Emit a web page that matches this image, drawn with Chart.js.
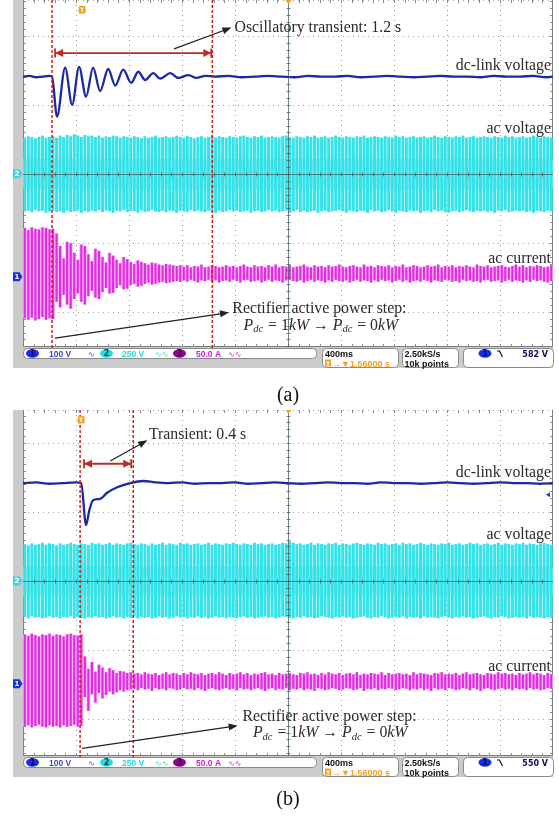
<!DOCTYPE html>
<html>
<head>
<meta charset="utf-8">
<script src="https://cdn.jsdelivr.net/npm/chart.js@4.4.1/dist/chart.umd.min.js"></script>
<style>
  body { margin: 0; background: #fff; width: 559px; height: 820px; position: relative; overflow: hidden; }
  canvas { position: absolute; left: 0; }
  #scopeA { top: 0; }
  #scopeB { top: 405px; }
</style>
</head>
<body>
<canvas id="scopeA" width="559" height="405"></canvas>
<canvas id="scopeB" width="559" height="415"></canvas>
<script>
// x: time in s (400 ms/div, 10 div). y: screen divisions, 0 = centre line.

// ---------- (a) ----------
var dcTimeA = [0, 0.05, 0.1, 0.15, 0.2, 0.219, 0.257, 0.318, 0.371, 0.423, 0.476, 0.529, 0.582, 0.643, 0.696,
  0.756, 0.817, 0.870, 0.922, 0.983, 1.036, 1.112, 1.172, 1.248, 1.308, 1.376,
  1.45, 1.55, 1.65, 1.75, 1.85, 1.95, 2.05, 2.15, 2.25, 2.35, 2.45, 2.55, 2.65, 2.75, 2.85, 2.95,
  3.05, 3.15, 3.25, 3.35, 3.45, 3.55, 3.65, 3.75, 3.85, 3.95, 4.0];
var dcLevelA = [1.41, 1.42, 1.40, 1.41, 1.42, 1.41, 0.83, 1.54, 1.00, 1.55, 1.12, 1.54, 1.20, 1.52, 1.28,
  1.51, 1.32, 1.48, 1.36, 1.46, 1.38, 1.46, 1.39, 1.43, 1.39, 1.42,
  1.41, 1.42, 1.40, 1.41, 1.42, 1.41, 1.40, 1.42, 1.41, 1.41, 1.42, 1.40, 1.41, 1.42, 1.41, 1.40,
  1.41, 1.42, 1.41, 1.41, 1.40, 1.42, 1.41, 1.41, 1.42, 1.40, 1.41];

var acvUpA = [0.52,0.54,0.53,0.51,0.53,0.55,0.52,0.53,0.54,0.52, 0.55,0.53,0.56,0.54,0.57,0.55,0.53,0.56,0.54,0.55,
  0.53,0.55,0.52,0.54,0.53,0.55,0.54,0.52,0.54,0.53, 0.52,0.54,0.53,0.51,0.54,0.52,0.53,0.55,0.52,0.53,
  0.54,0.52,0.53,0.55,0.53,0.52,0.54,0.53,0.51,0.53, 0.54,0.52,0.53,0.55,0.52,0.54,0.53,0.52,0.54,0.53,
  0.52,0.54,0.55,0.53,0.52,0.54,0.53,0.55,0.52,0.53, 0.54,0.53,0.52,0.54,0.55,0.53,0.52,0.54,0.53,0.52,
  0.54,0.53,0.55,0.52,0.53,0.54,0.52,0.53,0.55,0.53, 0.52,0.54,0.53,0.52,0.54,0.53,0.55,0.52,0.53,0.54,
  0.53,0.52,0.54,0.53,0.52,0.55,0.53,0.54,0.52,0.53, 0.54,0.52,0.53,0.54,0.52,0.53,0.55,0.53,0.52,0.54,
  0.53,0.52,0.54,0.53,0.55,0.52,0.53,0.54,0.52,0.53, 0.54,0.53,0.52,0.54,0.53,0.52,0.55,0.53,0.54,0.52,
  0.53,0.54,0.52,0.53,0.55,0.53,0.52,0.54,0.53,0.52];
var acvLowA = [-0.54,-0.53,-0.55,-0.52,-0.54,-0.53,-0.56,-0.54,-0.53,-0.55, -0.54,-0.56,-0.53,-0.55,-0.54,-0.53,-0.56,-0.54,-0.55,-0.53,
  -0.54,-0.52,-0.55,-0.53,-0.54,-0.56,-0.53,-0.54,-0.52,-0.55, -0.53,-0.54,-0.56,-0.53,-0.55,-0.54,-0.52,-0.54,-0.55,-0.53,
  -0.55,-0.53,-0.54,-0.56,-0.53,-0.54,-0.55,-0.52,-0.54,-0.53, -0.54,-0.55,-0.53,-0.54,-0.56,-0.53,-0.55,-0.54,-0.52,-0.54,
  -0.53,-0.55,-0.54,-0.53,-0.56,-0.54,-0.53,-0.55,-0.54,-0.52, -0.54,-0.53,-0.55,-0.54,-0.53,-0.56,-0.54,-0.52,-0.55,-0.53,
  -0.55,-0.54,-0.53,-0.56,-0.54,-0.53,-0.55,-0.54,-0.53,-0.52, -0.54,-0.56,-0.53,-0.54,-0.55,-0.53,-0.54,-0.56,-0.52,-0.54,
  -0.53,-0.55,-0.54,-0.52,-0.54,-0.56,-0.53,-0.54,-0.55,-0.53, -0.54,-0.53,-0.56,-0.54,-0.53,-0.55,-0.52,-0.54,-0.53,-0.55,
  -0.56,-0.54,-0.53,-0.55,-0.54,-0.52,-0.54,-0.55,-0.53,-0.54, -0.53,-0.55,-0.54,-0.56,-0.53,-0.54,-0.52,-0.55,-0.54,-0.53,
  -0.54,-0.53,-0.55,-0.54,-0.56,-0.53,-0.54,-0.55,-0.53,-0.54];
var acvCoreA = [-0.22, 0.22];

var curUpA = [0.66,0.63,0.67,0.65,0.64,0.67,0.66,0.64,0.65,
  0.58,0.40,0.22,0.46,0.44,0.30,0.20,0.42,0.40,0.28,0.18,0.36,0.33,0.24,0.16,0.30,0.26,0.20,
  0.15,0.24,0.21,0.17,0.14,0.19,0.17,0.15,0.13,0.16,0.15,0.13,0.12,0.14,0.13,0.12,0.11,0.12,
  0.10,0.12,0.09,0.11,0.10,0.13,0.09,0.10,0.12,0.11,0.09,0.10,0.12,0.10,0.11,
  0.09,0.11,0.13,0.10,0.09,0.12,0.10,0.11,0.09,0.12,0.10,0.13,0.09,0.11,0.10,
  0.12,0.09,0.10,0.11,0.13,0.10,0.09,0.12,0.10,0.11,0.09,0.12,0.10,0.11,0.13,
  0.10,0.09,0.11,0.12,0.10,0.09,0.13,0.10,0.11,0.09,0.12,0.11,0.10,0.12,0.09,
  0.11,0.10,0.13,0.09,0.10,0.12,0.11,0.09,0.10,0.12,0.10,0.11,0.13,0.09,0.11,
  0.10,0.12,0.09,0.11,0.10,0.12,0.10,0.09,0.13,0.11,0.10,0.12,0.09,0.10,0.11,
  0.12,0.10,0.09,0.11,0.13,0.10,0.12,0.09,0.11,0.10,0.12,0.11,0.09,0.10,0.12];
var curLowA = [-0.64,-0.66,-0.63,-0.67,-0.65,-0.62,-0.66,-0.64,-0.65,
  -0.40,-0.48,-0.30,-0.44,-0.50,-0.36,-0.28,-0.40,-0.44,-0.32,-0.24,-0.34,-0.36,-0.26,-0.20,-0.28,-0.27,-0.20,
  -0.16,-0.22,-0.21,-0.16,-0.14,-0.18,-0.17,-0.14,-0.12,-0.15,-0.14,-0.12,-0.11,-0.13,-0.12,-0.11,-0.10,-0.11,
  -0.09,-0.11,-0.08,-0.10,-0.12,-0.09,-0.10,-0.08,-0.11,-0.09,-0.12,-0.10,-0.09,-0.11,-0.08,
  -0.10,-0.12,-0.09,-0.08,-0.11,-0.10,-0.09,-0.12,-0.10,-0.08,-0.11,-0.09,-0.10,-0.12,-0.09,
  -0.08,-0.10,-0.11,-0.09,-0.12,-0.10,-0.08,-0.11,-0.09,-0.10,-0.12,-0.09,-0.11,-0.08,-0.10,
  -0.11,-0.09,-0.12,-0.10,-0.08,-0.11,-0.09,-0.10,-0.12,-0.09,-0.11,-0.08,-0.10,-0.09,-0.12,
  -0.10,-0.08,-0.11,-0.09,-0.12,-0.10,-0.09,-0.11,-0.08,-0.10,-0.12,-0.09,-0.10,-0.11,-0.08,
  -0.09,-0.11,-0.10,-0.12,-0.08,-0.10,-0.09,-0.11,-0.10,-0.12,-0.09,-0.08,-0.11,-0.10,-0.09,
  -0.12,-0.10,-0.08,-0.11,-0.09,-0.10,-0.12,-0.09,-0.11,-0.08,-0.10,-0.09,-0.11,-0.12,-0.10];
var stepTimesA = [0.219, 1.429];

// ---------- (b) ----------
var dcTimeB = [0, 0.1, 0.2, 0.3, 0.4, 0.439, 0.476, 0.50, 0.529, 0.582, 0.635, 0.711, 0.809, 0.907, 1.0,
  1.1, 1.2, 1.3, 1.4, 1.5, 1.6, 1.7, 1.8, 1.9, 2.0, 2.1, 2.2, 2.3, 2.4, 2.5, 2.6, 2.7, 2.8, 2.9,
  3.0, 3.1, 3.2, 3.3, 3.4, 3.5, 3.6, 3.7, 3.8, 3.9, 4.0];
var dcLevelB = [1.42, 1.43, 1.41, 1.42, 1.43, 1.42, 0.81, 1.02, 1.17, 1.19, 1.28, 1.36, 1.42, 1.45, 1.43,
  1.42, 1.43, 1.41, 1.42, 1.42, 1.43, 1.41, 1.42, 1.43, 1.42, 1.41, 1.42, 1.43, 1.42, 1.42,
  1.41, 1.43, 1.42, 1.42, 1.41, 1.42, 1.43, 1.42, 1.41, 1.42, 1.43, 1.42, 1.42, 1.41, 1.42];

var acvUpB = [0.53,0.51,0.54,0.52,0.53,0.55,0.52,0.54,0.53,0.51, 0.54,0.52,0.53,0.55,0.53,0.52,0.54,0.53,0.52,0.55,
  0.53,0.54,0.52,0.53,0.55,0.52,0.54,0.53,0.52,0.54, 0.55,0.53,0.52,0.54,0.53,0.51,0.54,0.52,0.53,0.55,
  0.52,0.54,0.53,0.52,0.55,0.53,0.54,0.52,0.53,0.54, 0.52,0.53,0.55,0.52,0.54,0.53,0.52,0.54,0.53,0.55,
  0.53,0.52,0.54,0.53,0.52,0.55,0.53,0.54,0.52,0.53, 0.54,0.52,0.53,0.55,0.54,0.57,0.55,0.53,0.54,0.52,
  0.53,0.55,0.52,0.54,0.53,0.52,0.54,0.53,0.55,0.52, 0.54,0.53,0.52,0.54,0.55,0.53,0.52,0.54,0.53,0.52,
  0.55,0.53,0.54,0.52,0.53,0.54,0.52,0.55,0.53,0.54, 0.52,0.53,0.55,0.53,0.52,0.54,0.53,0.52,0.54,0.53,
  0.55,0.52,0.53,0.54,0.52,0.53,0.55,0.53,0.54,0.52, 0.53,0.54,0.52,0.53,0.55,0.52,0.54,0.53,0.52,0.54,
  0.53,0.55,0.52,0.54,0.53,0.52,0.54,0.55,0.53,0.52];
var acvLowB = [-0.52,-0.54,-0.51,-0.53,-0.52,-0.54,-0.53,-0.51,-0.53,-0.52, -0.54,-0.52,-0.53,-0.51,-0.54,-0.52,-0.53,-0.54,-0.52,-0.53,
  -0.51,-0.53,-0.52,-0.54,-0.53,-0.51,-0.53,-0.52,-0.54,-0.52, -0.53,-0.51,-0.54,-0.52,-0.53,-0.52,-0.54,-0.53,-0.51,-0.53,
  -0.52,-0.54,-0.53,-0.51,-0.53,-0.52,-0.54,-0.52,-0.53,-0.51, -0.53,-0.52,-0.54,-0.53,-0.51,-0.53,-0.52,-0.54,-0.52,-0.53,
  -0.54,-0.52,-0.51,-0.53,-0.52,-0.54,-0.53,-0.52,-0.51,-0.53, -0.52,-0.54,-0.53,-0.51,-0.52,-0.53,-0.54,-0.52,-0.53,-0.51,
  -0.53,-0.52,-0.54,-0.53,-0.51,-0.52,-0.53,-0.54,-0.52,-0.53, -0.51,-0.53,-0.52,-0.54,-0.53,-0.52,-0.51,-0.53,-0.54,-0.52,
  -0.53,-0.51,-0.52,-0.54,-0.53,-0.52,-0.53,-0.51,-0.54,-0.52, -0.53,-0.52,-0.54,-0.51,-0.53,-0.52,-0.53,-0.54,-0.52,-0.51,
  -0.53,-0.54,-0.52,-0.53,-0.51,-0.53,-0.52,-0.54,-0.53,-0.52, -0.51,-0.53,-0.54,-0.52,-0.53,-0.51,-0.52,-0.54,-0.53,-0.52,
  -0.53,-0.52,-0.54,-0.51,-0.53,-0.52,-0.53,-0.54,-0.52,-0.53];
var acvCoreB = [-0.21, 0.21];

var curUpB = [0.68,0.66,0.69,0.67,0.65,0.68,0.67,0.69,0.66,0.68,0.67,0.65,0.68,0.69,0.67,0.66,0.68,
  0.36,0.18,0.28,0.14,0.24,0.20,0.13,0.19,0.16,0.12,0.15,0.14,0.12,0.13,
  0.11,0.12,0.10,0.13,0.11,0.10,0.12,0.09,0.11,0.13,0.10,0.12,0.11,0.09,0.12,
  0.10,0.13,0.11,0.10,0.12,0.09,0.11,0.12,0.10,0.13,0.11,0.09,0.12,0.10,0.11,
  0.13,0.10,0.12,0.09,0.11,0.10,0.12,0.13,0.10,0.11,0.09,0.12,0.10,0.11,0.12,
  0.10,0.09,0.12,0.11,0.13,0.10,0.11,0.09,0.12,0.10,0.13,0.11,0.10,0.12,0.09,
  0.11,0.12,0.10,0.13,0.09,0.11,0.10,0.12,0.11,0.10,0.13,0.09,0.12,0.10,0.11,
  0.12,0.10,0.11,0.09,0.13,0.10,0.12,0.11,0.10,0.09,0.12,0.11,0.13,0.10,0.11,
  0.10,0.12,0.09,0.11,0.13,0.10,0.11,0.12,0.10,0.09,0.12,0.11,0.10,0.13,0.11,
  0.12,0.10,0.11,0.09,0.12,0.10,0.11,0.13,0.10,0.12,0.11,0.09,0.12,0.10];
var curLowB = [-0.65,-0.63,-0.66,-0.64,-0.62,-0.65,-0.66,-0.63,-0.65,-0.64,-0.66,-0.63,-0.65,-0.64,-0.62,-0.65,-0.64,
  -0.22,-0.42,-0.18,-0.30,-0.16,-0.24,-0.19,-0.14,-0.18,-0.15,-0.12,-0.14,-0.12,-0.11,
  -0.10,-0.12,-0.09,-0.11,-0.10,-0.13,-0.09,-0.11,-0.10,-0.12,-0.09,-0.10,-0.12,-0.11,-0.09,
  -0.11,-0.10,-0.12,-0.09,-0.11,-0.13,-0.10,-0.09,-0.11,-0.12,-0.10,-0.09,-0.11,-0.10,-0.12,
  -0.09,-0.11,-0.10,-0.12,-0.10,-0.09,-0.11,-0.13,-0.10,-0.09,-0.12,-0.10,-0.11,-0.09,-0.12,
  -0.10,-0.11,-0.09,-0.12,-0.10,-0.11,-0.13,-0.09,-0.10,-0.12,-0.11,-0.09,-0.10,-0.12,-0.11,
  -0.09,-0.10,-0.12,-0.11,-0.09,-0.13,-0.10,-0.11,-0.09,-0.12,-0.10,-0.11,-0.09,-0.10,-0.12,
  -0.11,-0.09,-0.10,-0.12,-0.10,-0.11,-0.09,-0.12,-0.10,-0.13,-0.09,-0.11,-0.10,-0.12,-0.09,
  -0.10,-0.12,-0.11,-0.09,-0.10,-0.12,-0.09,-0.11,-0.13,-0.10,-0.09,-0.11,-0.12,-0.10,-0.09,
  -0.11,-0.10,-0.12,-0.09,-0.11,-0.10,-0.12,-0.09,-0.11,-0.10,-0.12,-0.11,-0.09,-0.10];
var stepTimesB = [0.431, 0.832];

var TIME_SPAN = 4;
var SERIF = '"Liberation Serif"';

function columns(up, low, centre) {
  var dt = TIME_SPAN / up.length;
  return up.map(function (u, i) {
    return { x: (i + 0.5) * dt, y: [centre + low[i], centre + u] };
  });
}

function points(ts, vs) {
  return ts.map(function (t, i) { return { x: t, y: vs[i] }; });
}

function seg(ctx, x1, y1, x2, y2) {
  ctx.beginPath();
  ctx.moveTo(x1, y1);
  ctx.lineTo(x2, y2);
  ctx.stroke();
}

function head(ctx, x1, y1, x2, y2, len, half) {
  var a = Math.atan2(y2 - y1, x2 - x1), c = Math.cos(a), s = Math.sin(a);
  ctx.beginPath();
  ctx.moveTo(x2, y2);
  ctx.lineTo(x2 - len * c + half * s, y2 - len * s - half * c);
  ctx.lineTo(x2 - len * c - half * s, y2 - len * s + half * c);
  ctx.closePath();
  ctx.fill();
}

function pill(ctx, x, y, w, h, r) {
  ctx.beginPath();
  ctx.moveTo(x + r, y);
  ctx.lineTo(x + w - r, y);
  ctx.arcTo(x + w, y, x + w, y + r, r);
  ctx.lineTo(x + w, y + h - r);
  ctx.arcTo(x + w, y + h, x + w - r, y + h, r);
  ctx.lineTo(x + r, y + h);
  ctx.arcTo(x, y + h, x, y + h - r, r);
  ctx.lineTo(x, y + r);
  ctx.arcTo(x, y, x + r, y, r);
  ctx.closePath();
}

function chip(ctx, cx, cy, fill, ink, txt) {
  ctx.fillStyle = fill;
  ctx.beginPath();
  ctx.ellipse(cx, cy, 6.5, 4.2, 0, 0, Math.PI * 2);
  ctx.fill();
  ctx.fillStyle = ink;
  ctx.font = 'bold 8px "DejaVu Sans"';
  ctx.textAlign = 'center';
  ctx.textBaseline = 'middle';
  ctx.fillText(txt, cx, cy + 0.5);
  ctx.textAlign = 'left';
  ctx.textBaseline = 'alphabetic';
}

function statusBar(ctx, L, B, level) {
  ctx.save();
  ctx.setLineDash([]);
  ctx.lineWidth = 1;
  ctx.strokeStyle = '#8a8a8a';
  ctx.fillStyle = '#ffffff';
  [[0, 293, 10], [299, 76, 19], [379, 56, 19], [440, 90, 19]].forEach(function (b) {
    pill(ctx, L + b[0] + 0.5, B + 1.5, b[1], b[2], 4);
    ctx.fill();
    ctx.stroke();
  });
  var f = 'bold 8.5px "Liberation Sans"';
  chip(ctx, L + 9.5, B + 6.5, 'rgb(25,45,230)', 'rgb(10,15,90)', '1');
  ctx.font = f; ctx.fillStyle = 'rgb(55,75,215)';
  ctx.fillText('100 V', L + 26, B + 10);
  ctx.font = '8px "DejaVu Sans"';
  ctx.fillText('\u223F', L + 65, B + 10);
  chip(ctx, L + 83.5, B + 6.5, 'rgb(35,222,225)', 'rgb(10,70,80)', '2');
  ctx.font = f; ctx.fillStyle = 'rgb(40,215,220)';
  ctx.fillText('250 V', L + 99, B + 10);
  ctx.font = '8px "DejaVu Sans"';
  ctx.fillText('\u223F\u223F', L + 132, B + 10);
  chip(ctx, L + 156.5, B + 6.5, 'rgb(150,0,150)', 'rgb(60,0,60)', '3');
  ctx.font = f; ctx.fillStyle = 'rgb(205,35,205)';
  ctx.fillText('50.0 A', L + 173, B + 10);
  ctx.font = '8px "DejaVu Sans"';
  ctx.fillText('\u223F\u223F', L + 205, B + 10);

  ctx.font = 'bold 9px "Liberation Sans"';
  ctx.fillStyle = '#111';
  ctx.fillText('400ms', L + 302, B + 10);
  ctx.fillStyle = 'rgb(245,160,30)';
  ctx.fillRect(L + 302, B + 12.5, 6, 7);
  ctx.fillText('\u2192\u25BC1.56000 s', L + 309, B + 19.5);
  ctx.fillStyle = '#fff';
  ctx.font = 'bold 6px "DejaVu Sans"';
  ctx.fillText('T', L + 303, B + 18.5);
  ctx.font = 'bold 9px "Liberation Sans"';
  ctx.fillStyle = '#111';
  ctx.fillText('2.50kS/s', L + 381.5, B + 10);
  ctx.fillText('10k points', L + 381.5, B + 19.5);
  chip(ctx, L + 462, B + 6.5, 'rgb(25,45,230)', 'rgb(10,15,90)', '1');
  ctx.strokeStyle = '#111';
  ctx.lineWidth = 1.2;
  ctx.beginPath();
  ctx.moveTo(L + 474, B + 4);
  ctx.lineTo(L + 476.5, B + 4);
  ctx.lineTo(L + 479.5, B + 10);
  ctx.stroke();
  ctx.textAlign = 'right';
  ctx.fillText(level, L + 525, B + 10);
  ctx.restore();
}

function mathLine(ctx, x, y, parts) {
  parts.forEach(function (p) {
    ctx.font = (p.it ? 'italic ' : '') + (p.sub ? '10.5px ' : '15.8px ') + SERIF;
    ctx.fillText(p.t, x, p.sub ? y + 3.5 : y);
    x += ctx.measureText(p.t).width + (p.sub ? 1 : 0);
  });
}

var powerStep = [
  { t: 'P', it: true }, { t: 'dc', it: true, sub: true }, { t: ' = 1' }, { t: 'kW', it: true },
  { t: ' \u2192 ' }, { t: 'P', it: true }, { t: 'dc', it: true, sub: true }, { t: ' = 0' }, { t: 'kW', it: true }
];

function scopeLook(p) {
  return {
    id: 'scopeLook',
    beforeDatasetsDraw: function (chart) {
      var ctx = chart.ctx, a = chart.chartArea, xs = chart.scales.x, ys = chart.scales.y;
      var i, x, y, v;
      ctx.save();
      ctx.fillStyle = '#cbcbcb';
      ctx.fillRect(a.left - 10, a.top, a.right - a.left + 10, a.bottom - a.top + 21);
      ctx.fillStyle = '#ffffff';
      ctx.fillRect(a.left, a.top, a.right - a.left, a.bottom - a.top);
      ctx.strokeStyle = '#9c9c9c';
      ctx.lineWidth = 1;
      ctx.setLineDash([1, 4]);
      for (i = 1; i < 10; i++) {
        if (i === 5) continue;
        x = Math.round(xs.getPixelForValue(i * 0.4)) + 0.5;
        seg(ctx, x, a.top, x, a.bottom);
      }
      for (i = -2; i <= 2; i++) {
        if (i === 0) continue;
        y = Math.round(ys.getPixelForValue(i)) + 0.5;
        seg(ctx, a.left, y, a.right, y);
      }
      seg(ctx, a.left, a.top + 0.5, a.right, a.top + 0.5);
      ctx.setLineDash([]);
      ctx.strokeStyle = '#7c7c7c';
      seg(ctx, a.left + 0.5, a.top, a.left + 0.5, a.bottom);
      seg(ctx, a.right - 0.5, a.top, a.right - 0.5, a.bottom);
      seg(ctx, a.left, a.bottom - 0.5, a.right, a.bottom - 0.5);
      ctx.strokeStyle = '#8c8c8c';
      for (v = Math.ceil(p.yMin * 10); v <= p.yMax * 10; v++) {
        y = Math.round(ys.getPixelForValue(v / 10)) + 0.5;
        seg(ctx, a.left, y, a.left + 3, y);
        seg(ctx, a.right - 3, y, a.right, y);
      }
      for (v = 1; v < 50; v++) {
        x = Math.round(xs.getPixelForValue(v * 0.08)) + 0.5;
        seg(ctx, x, a.bottom - 3, x, a.bottom);
        seg(ctx, x, a.top, x, a.top + 3);
      }
      ctx.restore();
    },
    afterDatasetsDraw: function (chart) {
      var ctx = chart.ctx, a = chart.chartArea, xs = chart.scales.x, ys = chart.scales.y;
      var X = function (t) { return xs.getPixelForValue(t); };
      var Y = function (v) { return ys.getPixelForValue(v); };
      var v, x, y, cx = Math.round(X(2)) + 0.5, cy = Math.round(Y(0)) + 0.5;
      ctx.save();

      // centre cross with ticks
      ctx.strokeStyle = 'rgba(70,90,95,0.75)';
      ctx.lineWidth = 1;
      seg(ctx, a.left, cy, a.right, cy);
      seg(ctx, cx, a.top, cx, a.bottom);
      for (v = 1; v < 50; v++) {
        x = Math.round(X(v * 0.08)) + 0.5;
        seg(ctx, x, cy - 2, x, cy + 2);
      }
      for (v = Math.ceil(p.yMin * 10); v <= p.yMax * 10; v++) {
        y = Math.round(Y(v / 10)) + 0.5;
        seg(ctx, cx - 2, y, cx + 2, y);
      }

      // step markers
      ctx.strokeStyle = 'rgb(208,30,30)';
      ctx.lineWidth = 1.5;
      ctx.setLineDash([3, 2]);
      p.steps.forEach(function (t) { seg(ctx, X(t), a.top, X(t), a.bottom + 11); });
      ctx.setLineDash([]);

      // transient span arrow
      var sy = Y(p.span.y), s0 = X(p.span.t0), s1 = X(p.span.t1);
      ctx.strokeStyle = 'rgb(185,45,40)';
      ctx.fillStyle = 'rgb(185,45,40)';
      ctx.lineWidth = 1.8;
      seg(ctx, s0, sy, s1, sy);
      seg(ctx, s0, sy - 4.5, s0, sy + 4.5);
      seg(ctx, s1, sy - 4.5, s1, sy + 4.5);
      head(ctx, s1, sy, s0, sy, 8, 4);
      head(ctx, s0, sy, s1, sy, 8, 4);

      // black callout arrows
      ctx.strokeStyle = '#222';
      ctx.fillStyle = '#222';
      ctx.lineWidth = 1.3;
      [p.note, p.power].forEach(function (n) {
        var x0 = X(n.t0), y0 = Y(n.v0), x1 = X(n.t1), y1 = Y(n.v1);
        seg(ctx, x0, y0, x1 - (x1 - x0) * 0.03, y1 - (y1 - y0) * 0.03);
        head(ctx, x0, y0, x1, y1, 9, 3.5);
      });

      ctx.fillStyle = '#2a2a2a';
      ctx.textBaseline = 'middle';
      ctx.font = '15.8px ' + SERIF;
      ctx.textAlign = 'left';
      ctx.fillText(p.note.text, X(p.note.tx), Y(p.note.vy));
      ctx.fillText('Rectifier active power step:', X(p.power.tx1), Y(p.power.vy1));
      mathLine(ctx, X(p.power.tx2), Y(p.power.vy2), powerStep);
      ctx.font = '15.8px ' + SERIF;
      ctx.textAlign = 'right';
      p.names.forEach(function (n) { ctx.fillText(n[0], X(3.985), Y(n[1])); });

      // channel markers on the left edge
      [[0, 'rgb(60,215,225)', '2'], [p.ch1Mark, 'rgb(25,50,225)', '1']].forEach(function (m) {
        var yy = Y(m[0]), xx = a.left - 10;
        ctx.fillStyle = m[1];
        ctx.beginPath();
        ctx.moveTo(xx, yy - 4.5);
        ctx.lineTo(xx + 6.5, yy - 4.5);
        ctx.lineTo(xx + 9.5, yy);
        ctx.lineTo(xx + 6.5, yy + 4.5);
        ctx.lineTo(xx, yy + 4.5);
        ctx.closePath();
        ctx.fill();
        ctx.fillStyle = '#fff';
        ctx.font = 'bold 7px "DejaVu Sans"';
        ctx.textAlign = 'center';
        ctx.fillText(m[2], xx + 4, yy + 0.5);
      });

      // trigger point and position markers
      ctx.fillStyle = 'rgb(245,160,30)';
      x = X(p.trigTime);
      pill(ctx, x - 3.5, a.top + 6, 7, 7.5, 1.5);
      ctx.fill();
      ctx.fillStyle = '#fff';
      ctx.font = 'bold 6px "DejaVu Sans"';
      ctx.fillText('T', x, a.top + 10);
      ctx.fillStyle = 'rgb(245,160,30)';
      ctx.beginPath();
      ctx.moveTo(cx - 3, a.top);
      ctx.lineTo(cx + 3, a.top);
      ctx.lineTo(cx, a.top + 4);
      ctx.closePath();
      ctx.fill();
      if (p.levelMark !== null) {
        y = Y(p.levelMark);
        ctx.fillStyle = 'rgb(30,60,230)';
        ctx.beginPath();
        ctx.moveTo(a.right - 7, y);
        ctx.lineTo(a.right - 3, y - 2.5);
        ctx.lineTo(a.right - 3, y + 2.5);
        ctx.closePath();
        ctx.fill();
      }

      statusBar(ctx, a.left, a.bottom, p.level);

      ctx.fillStyle = '#111';
      ctx.font = '20px ' + SERIF;
      ctx.textAlign = 'center';
      ctx.textBaseline = 'middle';
      ctx.fillText(p.caption, (a.left + a.right) / 2, p.captionY);
      ctx.restore();
    }
  };
}

function scope(id, p) {
  var acv = columns(p.acvUp, p.acvLow, 0);
  var cur = columns(p.curUp, p.curLow, p.curCentre);
  return new Chart(document.getElementById(id), {
    type: 'bar',
    data: {
      datasets: [
        { type: 'line', data: [{ x: 0, y: p.acvCore[1] }, { x: TIME_SPAN, y: p.acvCore[1] }], fill: '+1',
          backgroundColor: 'rgb(165,241,243)', borderColor: 'rgba(0,0,0,0)', borderWidth: 0, pointRadius: 0, order: 8 },
        { type: 'line', data: [{ x: 0, y: p.acvCore[0] }, { x: TIME_SPAN, y: p.acvCore[0] }], fill: false,
          borderColor: 'rgba(0,0,0,0)', borderWidth: 0, pointRadius: 0, order: 8 },
        { data: acv, backgroundColor: 'rgb(52,226,232)', barThickness: 2.3, grouped: false, order: 6 },
        { data: cur, backgroundColor: 'rgb(245,178,245)', barThickness: 3.2, grouped: false, order: 5 },
        { data: cur, backgroundColor: 'rgb(224,45,224)', barThickness: 1.5, grouped: false, order: 4 },
        { type: 'line', data: points(p.dcTime, p.dcLevel), borderColor: 'rgb(28,42,160)', borderWidth: 2.3,
          pointRadius: 0, cubicInterpolationMode: 'monotone', order: 1 }
      ]
    },
    options: {
      responsive: false,
      animation: false,
      devicePixelRatio: 1,
      layout: { padding: p.pad },
      plugins: { legend: { display: false }, tooltip: { enabled: false } },
      scales: {
        x: { type: 'linear', min: 0, max: TIME_SPAN, offset: false, display: false },
        y: { type: 'linear', min: p.yMin, max: p.yMax, display: false }
      }
    },
    plugins: [scopeLook(p)]
  });
}

scope('scopeA', {
  yMin: -2.51, yMax: 2.52, pad: { left: 23, right: 6, top: 0, bottom: 58 },
  dcTime: dcTimeA, dcLevel: dcLevelA, acvUp: acvUpA, acvLow: acvLowA, acvCore: acvCoreA,
  curUp: curUpA, curLow: curLowA, curCentre: -1.45,
  steps: stepTimesA, trigTime: 0.446, ch1Mark: -1.49, levelMark: null,
  level: '582 V', caption: '(a)', captionY: 396,
  span: { y: 1.75, t0: 0.242, t1: 1.421 },
  note: { t0: 1.14, v0: 1.81, t1: 1.573, v1: 2.12, tx: 1.596, vy: 2.12, text: 'Oscillatory transient: 1.2 s' },
  power: { t0: 0.242, v0: -2.38, t1: 1.555, v1: -2.01, tx1: 1.58, vy1: -1.96, tx2: 1.665, vy2: -2.2 },
  names: [['dc-link voltage', 1.57], ['ac voltage', 0.65], ['ac current', -1.23]]
});

scope('scopeB', {
  yMin: -2.54, yMax: 2.48, pad: { left: 23, right: 6, top: 5, bottom: 64 },
  dcTime: dcTimeB, dcLevel: dcLevelB, acvUp: acvUpB, acvLow: acvLowB, acvCore: acvCoreB,
  curUp: curUpB, curLow: curLowB, curCentre: -1.46,
  steps: stepTimesB, trigTime: 0.439, ch1Mark: -1.49, levelMark: 1.25,
  level: '550 V', caption: '(b)', captionY: 395,
  span: { y: 1.70, t0: 0.461, t1: 0.817 },
  note: { t0: 0.658, v0: 1.74, t1: 0.938, v1: 2.04, tx: 0.950, vy: 2.12, text: 'Transient: 0.4 s' },
  power: { t0: 0.446, v0: -2.43, t1: 1.62, v1: -2.10, tx1: 1.656, vy1: -1.97, tx2: 1.735, vy2: -2.21 },
  names: [['dc-link voltage', 1.57], ['ac voltage', 0.67], ['ac current', -1.25]]
});
</script>
</body>
</html>
